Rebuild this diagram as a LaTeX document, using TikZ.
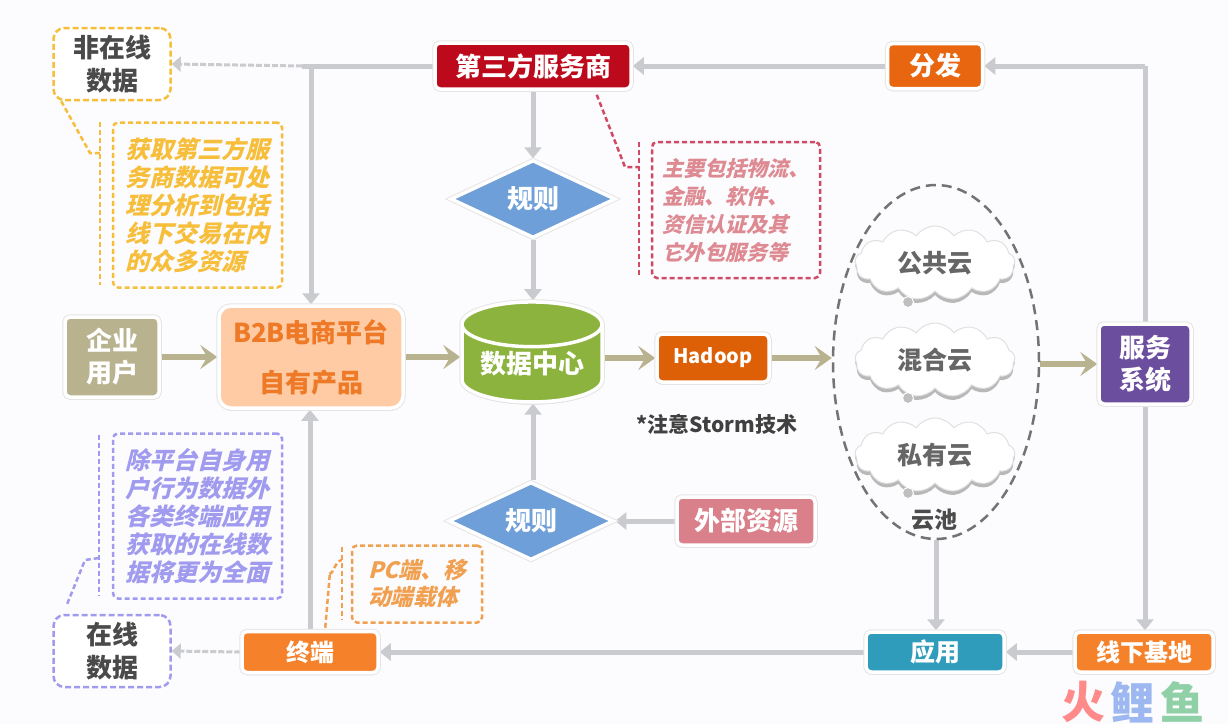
\documentclass[tikz,border=0pt]{standalone}
\usepackage{fontspec}
\setmainfont{Noto Sans CJK SC}
\newfontfamily\slantcjk[FakeSlant=0.25]{Noto Sans CJK SC}
\usetikzlibrary{arrows.meta,shapes.geometric,shapes.symbols,shadows,backgrounds,calc}
\definecolor{bgc}{HTML}{FCFCFE}
\definecolor{linec}{HTML}{C9CBCF}
\definecolor{tanc}{HTML}{B9B28E}
\definecolor{yel}{HTML}{F6BE3A}
\definecolor{pur}{HTML}{A09BEE}
\definecolor{redd}{HTML}{CF4A62}
\definecolor{redt}{HTML}{DE8A92}
\definecolor{org}{HTML}{F0A050}
\definecolor{txtd}{HTML}{4A4A4A}
\definecolor{cthird}{HTML}{BC0A1C}
\definecolor{cdist}{HTML}{E8660F}
\definecolor{cdia}{HTML}{6E9FD8}
\definecolor{cpeach}{HTML}{FFCBA4}
\definecolor{cb2bt}{HTML}{EE7A28}
\definecolor{ccyl}{HTML}{8DB33F}
\definecolor{chad}{HTML}{DE6006}
\definecolor{csvc}{HTML}{6B4E9E}
\definecolor{cterm}{HTML}{F5822A}
\definecolor{capp}{HTML}{2F9CBB}
\definecolor{cext}{HTML}{D9808A}
\definecolor{wa}{HTML}{FF8A8A}
\definecolor{wb}{HTML}{9DB8F0}
\definecolor{wc}{HTML}{8FD0A6}
\tikzset{
 softshadow/.style={drop shadow={shadow xshift=0pt,shadow yshift=-2.5pt,fill=black!40,opacity=.55},
   preaction={draw=black!10,line width=5.5pt}},
 boxn/.style={rectangle,rounded corners=5pt,draw=white,line width=3.5pt,inner sep=0pt,align=center,text=white,
   font=\fontsize{26}{32}\selectfont\bfseries,softshadow},
 dia/.style={diamond,aspect=2.1,draw=white,line width=3.5pt,fill=#1,inner sep=0pt,text=white,
   minimum width=165pt,minimum height=78pt,font=\fontsize{26}{30}\selectfont\bfseries,softshadow},
 note/.style={rectangle,rounded corners=5pt,draw=#1,dashed,dash pattern=on 5pt off 3pt,line width=2.5pt,inner sep=0pt,align=left},
 tag/.style={rectangle,rounded corners=11pt,draw=#1,dashed,dash pattern=on 6pt off 3pt,line width=2.5pt,inner sep=0pt,align=center,
   fill=white,text=txtd,font=\fontsize{26}{33}\selectfont\bfseries},
 slanted/.style={text=#1,font=\slantcjk\bfseries},
 cloudn/.style={cloud,cloud puffs=13,cloud puff arc=110,aspect=2.2,draw=black!12,fill=white,line width=1pt,inner sep=0pt,
   minimum width=160pt,minimum height=74pt,text=black!60,font=\fontsize{25}{30}\selectfont\bfseries,
   drop shadow={shadow xshift=0pt,shadow yshift=-4pt,fill=black!45,opacity=.6}},
 blob/.style={circle,fill=black!25,draw=white,line width=1pt,minimum size=11pt,inner sep=0pt},
 flow/.style={line width=5pt,draw=linec,-{Triangle[length=11pt,width=17pt]}},
 plainl/.style={line width=5pt,draw=linec},
 dashl/.style={line width=3pt,draw=linec,dash pattern=on 6pt off 2pt,-{Triangle[length=9pt,width=15pt]}},
 main/.style={line width=6.5pt,draw=tanc,-{Stealth[length=17pt,width=24pt,inset=7pt]}},
 brk/.style={line width=2.5pt,dashed,dash pattern=on 5pt off 3pt,draw=#1},
}
\begin{document}
\begin{tikzpicture}[x=1pt,y=-1pt]
\useasboundingbox (0,0) rectangle (1228,724);

% tags and notes
\node[tag=yel,minimum width=117pt,minimum height=72pt] (off) at (112,64) {非在线\\数据};
\node[note=yel,minimum width=169pt,minimum height=165pt,slanted=yel,font=\slantcjk\bfseries\fontsize{24}{28}\selectfont] (offn) at (197.5,205) {获取第三方服\\务商数据可处\\理分析到包括\\线下交易在内\\的众多资源};
\node[tag=pur,minimum width=117pt,minimum height=72pt] (on) at (112,651) {在线\\数据};
\node[note=pur,minimum width=169pt,minimum height=165pt,slanted=pur,font=\slantcjk\bfseries\fontsize{24}{28}\selectfont] (onn) at (197.5,516) {除平台自身用\\户行为数据外\\各类终端应用\\获取的在线数\\据将更为全面};
\node[note=org,minimum width=130pt,minimum height=77pt,slanted=org,font=\slantcjk\bfseries\fontsize{22.5}{27}\selectfont] (pcn) at (417,584) {PC端、移\\动端载体};
\node[note=redd,minimum width=168pt,minimum height=136pt,slanted=redt,font=\slantcjk\bfseries\fontsize{21}{28}\selectfont] (rn) at (736,210) {主要包括物流、\\金融、软件、\\资信认证及其\\它外包服务等};

% boxes
\node[boxn,fill=cthird,minimum width=196pt,minimum height=46pt] (third) at (533,66) {第三方服务商};
\node[boxn,fill=cdist,minimum width=95pt,minimum height=45pt] (dist) at (935,66) {分发};
\node[dia=cdia] (r1) at (533,199) {规则};
\node[dia=cdia] (r2) at (531,521) {规则};
\node[boxn,fill=tanc,minimum width=94pt,minimum height=80pt] (ent) at (112,357) {企业\\用户};
\node[boxn,fill=cpeach,rounded corners=12pt,minimum width=184pt,minimum height=102pt,text=cb2bt,font=\fontsize{26}{50}\selectfont\bfseries] (b2b) at (311,357) {\raisebox{-4pt}{B2B电商平台}\\\raisebox{-4pt}{自有产品}};
\node[cylinder,shape border rotate=90,aspect=0.43,draw=white,line width=3.5pt,fill=ccyl,cylinder uses custom fill,cylinder body fill=ccyl,cylinder end fill=ccyl,text=white,
  minimum width=140pt,minimum height=100pt,inner sep=0pt,font=\fontsize{26}{30}\selectfont\bfseries,softshadow] (dc) at (532,364) {数据中心};
\node[boxn,fill=chad,minimum width=112pt,minimum height=48pt,font=\fontsize{20}{24}\selectfont\bfseries] (had) at (713,358) {Hadoop};
\node[text=black!75,font=\fontsize{21}{25}\selectfont\bfseries,inner sep=0pt] (storm) at (717,424) {*注意Storm技术};
\node[boxn,fill=cext,minimum width=138pt,minimum height=48pt] (ext) at (746,521) {外部资源};
\node[boxn,fill=csvc,minimum width=92pt,minimum height=80pt] (svc) at (1145,364) {服务\\系统};
\node[boxn,fill=cterm,minimum width=136pt,minimum height=41pt,font=\fontsize{24}{28}\selectfont\bfseries] (term) at (310,652) {终端};
\node[boxn,fill=capp,minimum width=138pt,minimum height=40pt,font=\fontsize{25}{28}\selectfont\bfseries] (app) at (935,652) {应用};
\node[boxn,fill=cterm,minimum width=138pt,minimum height=40pt,font=\fontsize{24}{28}\selectfont\bfseries] (base) at (1144,652) {线下基地};

% cloud pool
\node[ellipse,draw=black!55,line width=2.5pt,dashed,dash pattern=on 10pt off 6pt,minimum width=206pt,minimum height=354pt,inner sep=0pt] (pool) at (936,362) {};
\node[cloudn] (c1) at (935,263) {公共云};
\node[cloudn] (c2) at (935,360) {混合云};
\node[cloudn] (c3) at (935,455) {私有云};
\node[blob] (b1) at (908,302) {};
\node[blob] (b2) at (908,398) {};
\node[blob] (b3) at (908,493) {};
\node[text=black!70,font=\fontsize{23}{26}\selectfont\bfseries,inner sep=0pt] (pooll) at (934,520) {云池};

% watermark
\node[text=wa,font=\fontsize{44}{44}\selectfont\bfseries,inner sep=0pt] (w1) at (1083,702) {火};
\node[text=wb,font=\fontsize{44}{44}\selectfont\bfseries,inner sep=0pt] (w2) at (1132,702) {鲤};
\node[text=wc,font=\fontsize{44}{44}\selectfont\bfseries,inner sep=0pt] (w3) at (1182,702) {鱼};

% coordinates
\coordinate (j1) at (302,66);
\coordinate (j2) at (311,66);
\coordinate (j3) at (1145,66);
\coordinate (bo1) at (90,153); \coordinate (bo2) at (100,153); \coordinate (bot) at (100,122); \coordinate (bob) at (100,285);
\coordinate (bn1) at (85,560); \coordinate (bn2) at (99,558); \coordinate (bnt) at (99,435); \coordinate (bnb) at (99,596);
\coordinate (bp1) at (330,572); \coordinate (bp2) at (342,560); \coordinate (bpt) at (342,547); \coordinate (bpb) at (342,620);
\coordinate (br1) at (625,167); \coordinate (br2) at (639,167); \coordinate (brt) at (639,142); \coordinate (brb) at (639,277);

\begin{scope}[on background layer]
\fill[bgc] (0,0) rectangle (1228,724);
% flows
\draw[flow] (j3) -- (dist.east);
\draw[plainl] (svc.north) -- (j3);
\draw[flow] (dist.west) -- (third.east);
\draw[plainl] (third.west) -- (j1);
\draw[dashl] (j1) -- (off.east);
\draw[flow] (j2) -- (b2b.north);
\draw[flow] (third.south) -- (r1.north);
\draw[flow] (r1.south) -- (r1.south |- dc.north);
\draw[flow] (r2.north -| r1.south) -- (r1.south |- dc.south);
\draw[flow] (ext.west) -- (r2.east);
\draw[flow] (term.north) -- (b2b.south -| term.north);
\draw[dashl] (term.west) -- (on.east);
\draw[flow] (app.west) -- (term.east);
\draw[flow] (base.west) -- (app.east);
\draw[flow] (pool.south) -- (app.north -| pool.south);
\draw[flow] (svc.south) -- (base.north -| svc.south);
% main arrows
\draw[main] (ent.east) -- (b2b.west);
\draw[main] (b2b.east) -- (b2b.east -| dc.west);
\draw[main] (had.west -| dc.east) -- (had.west);
\draw[main] (had.east) -- (had.east -| pool.west);
\draw[main] (svc.west -| pool.east) -- (svc.west);
\end{scope}

% callout tails
\draw[brk=yel] ($(off.south west)+(9,0)$) -- (bo1) -- (bo2);
\draw[brk=yel] (bot) -- (bob);
\draw[brk=pur] ($(on.north west)+(15,-10)$) -- (bn1) -- (bn2);
\draw[brk=pur] (bnt) -- (bnb);
\draw[brk=org] ($(term.north west)+(85,-2)$) -- (bp1) to[out=-80,in=180] (bp2);
\draw[brk=org] (bpt) -- (bpb);
\draw[brk=redd] ($(third.south east)+(-36,4)$) -- (br1) -- (br2);
\draw[brk=redd] (brt) -- (brb);
\end{tikzpicture}
\end{document}
